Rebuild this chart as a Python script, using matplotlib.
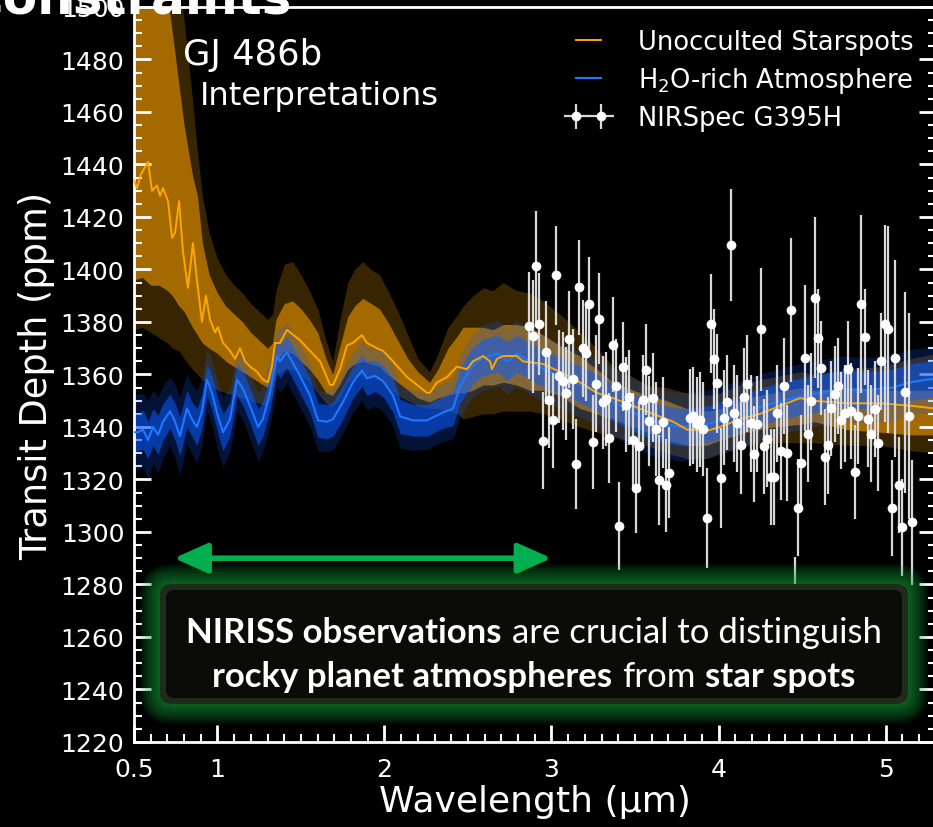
import matplotlib
matplotlib.use("Agg")
import matplotlib.pyplot as plt
from matplotlib.patches import FancyBboxPatch, FancyArrowPatch
from matplotlib.transforms import IdentityTransform
from matplotlib.offsetbox import TextArea, HPacker, VPacker, AnnotationBbox
from matplotlib.ticker import MultipleLocator, FixedLocator

# ---- unocculted starspot model (median) ----
spot_wl = [0.500, 0.518, 0.540, 0.566, 0.584, 0.608, 0.638, 0.656, 0.674, 0.704,
           0.728, 0.746, 0.770, 0.793, 0.823, 0.853, 0.877, 0.907, 0.931, 0.955,
           0.985, 1.003, 1.033, 1.075, 1.105, 1.135, 1.165, 1.195, 1.237, 1.272,
           1.302, 1.326, 1.344, 1.374, 1.416, 1.494, 1.554, 1.614, 1.674, 1.692,
           1.734, 1.775, 1.811, 1.865, 1.895, 1.955, 1.991, 2.051, 2.135, 2.195,
           2.254, 2.272, 2.314, 2.374, 2.434, 2.494, 2.530, 2.590, 2.632, 2.644,
           2.674, 2.710, 2.793, 2.829, 2.949, 3.051, 3.171, 3.272, 3.368, 3.488,
           3.608, 3.728, 3.811, 3.931, 4.009, 4.129, 4.249, 4.368, 4.488, 4.566,
           4.769, 4.967, 5.165, 5.300]
spot_med = [1434, 1431, 1436, 1439, 1441, 1430, 1432, 1428, 1431, 1426,
            1412, 1414, 1426, 1407, 1393, 1410, 1396, 1380, 1390, 1381,
            1376, 1378, 1372, 1369, 1366, 1370, 1365, 1363, 1361, 1358,
            1357, 1363, 1372, 1372, 1377, 1373, 1369, 1365, 1356, 1356,
            1362, 1371, 1372, 1375, 1372, 1370, 1369, 1365, 1359, 1356,
            1353, 1353, 1357, 1359, 1363, 1362, 1365, 1367, 1365, 1362,
            1366, 1367, 1367, 1365, 1364, 1361, 1357, 1353, 1351, 1348,
            1345, 1342, 1339, 1338.5, 1340, 1343, 1345, 1348, 1351, 1350,
            1349, 1349, 1348, 1347]

# ---- starspot model 1 and 2 sigma envelopes ----
spot_band_wl = [0.50, 0.55, 0.60, 0.65, 0.70, 0.73, 0.77, 0.80, 0.85, 0.88,
                0.91, 0.95, 1.00, 1.05, 1.10, 1.15, 1.20, 1.25, 1.30, 1.33,
                1.35, 1.40, 1.45, 1.50, 1.55, 1.60, 1.65, 1.69, 1.73, 1.78,
                1.82, 1.87, 1.92, 1.97, 2.02, 2.08, 2.14, 2.20, 2.27, 2.32,
                2.38, 2.44, 2.47, 2.53, 2.59, 2.65, 2.71, 2.79, 2.87, 2.95,
                3.05, 3.17, 3.27, 3.37, 3.49, 3.57, 3.69, 3.81, 3.93, 4.01,
                4.17, 4.33, 4.49, 4.57, 4.77, 4.97, 5.15, 5.30]
spot_lo2 = [1377, 1378, 1376, 1374, 1372, 1370, 1369, 1366, 1362, 1360,
            1358, 1356, 1354, 1353, 1352, 1351, 1350, 1349, 1348, 1352,
            1360, 1362, 1362, 1360, 1357, 1353, 1349, 1348, 1351, 1357,
            1359, 1360, 1359, 1358, 1355, 1352, 1350, 1348, 1347, 1347,
            1346, 1345, 1343, 1344, 1345, 1345, 1346, 1346, 1346, 1345,
            1343, 1340, 1338, 1336.5, 1334, 1333, 1330, 1328, 1328, 1330,
            1333, 1334, 1334, 1334, 1333, 1333, 1331, 1330]
spot_lo1 = [1396, 1397, 1394, 1394, 1392, 1390, 1386, 1384, 1378, 1375,
            1372, 1370, 1368, 1365, 1363, 1361, 1359, 1357, 1355, 1358,
            1365, 1369, 1368, 1365, 1362, 1358, 1353, 1352, 1356, 1362,
            1364, 1365, 1364, 1363, 1360, 1357, 1354, 1351, 1349.5, 1351,
            1352, 1353, 1353, 1354, 1356, 1356, 1357, 1356, 1354, 1354,
            1352, 1347, 1345, 1343, 1340, 1338, 1335, 1333, 1333, 1335,
            1338, 1340, 1341, 1342, 1339, 1338, 1337, 1337]
spot_hi1 = [1520, 1520, 1520, 1515, 1505, 1490, 1470, 1455, 1436, 1428,
            1410, 1398, 1391, 1386, 1383, 1380, 1376, 1373, 1370, 1372,
            1381, 1387, 1388, 1385, 1381, 1376, 1366, 1360, 1370, 1382,
            1386, 1389, 1387, 1385, 1380, 1373, 1366, 1361, 1357, 1362,
            1370, 1375, 1378, 1378, 1378, 1377, 1379, 1379, 1378, 1375,
            1371, 1367, 1362, 1357, 1354, 1352, 1350, 1347, 1346, 1347,
            1351, 1353, 1355, 1354, 1355, 1354, 1354, 1354]
spot_hi2 = [1530, 1530, 1530, 1530, 1525, 1520, 1510, 1495, 1465, 1445,
            1428, 1414, 1404, 1398, 1394, 1391, 1387, 1384, 1381, 1383,
            1392, 1402, 1403, 1398, 1392, 1385, 1373, 1365, 1380, 1395,
            1400, 1403, 1400, 1398, 1392, 1384, 1375, 1366, 1361, 1368,
            1378, 1383, 1386, 1390, 1393, 1392, 1395, 1392, 1391, 1388,
            1383, 1376, 1370, 1363, 1359, 1356, 1355, 1353, 1352, 1353,
            1357, 1359, 1361, 1360, 1362, 1363, 1366, 1368]

# ---- H2O-rich atmosphere model ----
atm_wl = [0.500, 0.524, 0.554, 0.584, 0.614, 0.644, 0.674, 0.716, 0.746, 0.775,
          0.817, 0.847, 0.877, 0.907, 0.937, 0.967, 1.003, 1.033, 1.075, 1.117,
          1.153, 1.195, 1.243, 1.272, 1.314, 1.356, 1.374, 1.416, 1.494, 1.554,
          1.602, 1.656, 1.692, 1.751, 1.811, 1.865, 1.895, 1.943, 1.991, 2.051,
          2.094, 2.171, 2.254, 2.350, 2.410, 2.452, 2.494, 2.530, 2.590, 2.680,
          2.734, 2.793, 2.871, 2.973, 3.093, 3.231, 3.368, 3.488, 3.608, 3.769,
          3.931, 4.087, 4.266, 4.410, 4.566, 4.728, 4.889, 5.045, 5.147, 5.300]
atm_med = [1338, 1338, 1339, 1335, 1340, 1337, 1342, 1346, 1342, 1336.5,
           1347, 1343, 1340, 1346, 1358, 1353, 1344, 1338, 1343, 1358,
           1354.5, 1348, 1340, 1343, 1353, 1367, 1365, 1368.5, 1359.5, 1352,
           1342.5, 1342, 1343, 1349.5, 1357, 1361.5, 1358.5, 1359.5, 1357.5, 1352,
           1344, 1342.5, 1342.5, 1345.5, 1347, 1355.5, 1360, 1363.5, 1366.5, 1368,
           1365, 1368, 1365, 1361.5, 1358.5, 1354.5, 1349.5, 1345.5, 1342, 1340,
           1341, 1344, 1348, 1350.5, 1352.5, 1354.5, 1354, 1355, 1357, 1358.5]
atm_sig1 = [7.5, 7, 7.5, 7, 7, 7.5, 7, 6.5, 7, 7.5,
            7, 6.5, 7, 6.5, 6, 6.5, 6.5, 7, 6.5, 6,
            6.5, 6.5, 7, 6.5, 6.5, 6, 6.5, 6, 6.5, 6.5,
            6.5, 6.5, 6.5, 6.5, 6, 6, 6.5, 6, 6, 6.5,
            6.5, 6, 6, 6, 6.5, 6.5, 7, 7, 7, 7,
            7.5, 7, 7, 7, 7, 7, 7, 7, 7, 7,
            7, 7, 7, 7, 7, 7, 7, 7, 7, 7]
atm_sig2 = [14, 14.5, 14, 15, 14, 14.5, 14, 13, 14, 15,
            13.5, 13, 14, 13, 12, 12.5, 13, 13.5, 12.5, 12,
            12, 12.5, 13, 12.5, 12.5, 11.5, 12, 11.5, 12, 12,
            11.5, 11.5, 11.5, 12, 11.5, 11.5, 12, 11.5, 11.5, 12,
            12, 11.5, 11, 11, 11.5, 12, 12, 12, 12.5, 12.5,
            12.5, 12.5, 12.5, 12.5, 12.5, 12.5, 13, 13, 13, 13,
            13, 13, 12.5, 12.5, 12.5, 12.5, 12.5, 12.5, 12.5, 12.5]

# ---- NIRSpec G395H spectrum ----
obs_wl = [2.867, 2.887, 2.907, 2.927, 2.947, 2.967, 2.987, 3.007, 3.027, 3.047,
          3.067, 3.087, 3.107, 3.127, 3.147, 3.167, 3.187, 3.207, 3.227, 3.247,
          3.267, 3.286, 3.306, 3.326, 3.346, 3.366, 3.386, 3.406, 3.426, 3.446,
          3.466, 3.486, 3.506, 3.526, 3.546, 3.566, 3.586, 3.606, 3.626, 3.646,
          3.666, 3.686, 3.706,
          3.829, 3.849, 3.869, 3.889, 3.909, 3.933, 3.953, 3.973, 3.993, 4.013,
          4.033, 4.053, 4.077, 4.093, 4.113, 4.133, 4.153, 4.173, 4.193, 4.213,
          4.233, 4.252, 4.272, 4.292, 4.312, 4.332, 4.352, 4.372, 4.392, 4.412,
          4.436, 4.456, 4.476, 4.496, 4.516, 4.536, 4.556, 4.576, 4.596, 4.616, 4.636,
          4.656, 4.676, 4.696, 4.716, 4.736, 4.756, 4.776, 4.796, 4.815, 4.835,
          4.855, 4.875, 4.895, 4.915, 4.935, 4.955, 4.975, 4.995, 5.015, 5.039,
          5.059, 5.079, 5.099, 5.119, 5.139, 5.159]
obs_depth = [1378.6, 1374.5, 1401.2, 1379.2, 1334.8, 1368.4, 1350.3, 1342.5, 1397.7, 1359.3,
             1357.4, 1352.8, 1373.4, 1358.3, 1325.9, 1393.3, 1370.0, 1368.2, 1386.7, 1334.2,
             1356.5, 1381.3, 1349.4, 1350.7, 1335.8, 1371.4, 1355.7, 1302.4, 1363.0, 1348.5,
             1351.4, 1335.1, 1316.8, 1332.6, 1350.2, 1361.8, 1342.2, 1351.2, 1339.2, 1319.7,
             1341.7, 1317.7, 1322.6,
             1343.6, 1344.3, 1341.0, 1342.8, 1339.2, 1305.2, 1379.4, 1365.8, 1356.6, 1320.6,
             1343.6, 1349.4, 1409.3, 1345.2, 1341.4, 1333.2, 1351.6, 1356.5, 1341.4, 1329.7,
             1341.1, 1377.2, 1332.6, 1335.5, 1321.0, 1321.0, 1345.2, 1330.7, 1355.6, 1330.1,
             1384.5, 1272.0, 1309.3, 1326.3, 1366.3, 1337.5, 1349.7, 1389.3, 1373.7, 1362.4, 1328.6,
             1333.0, 1347.1, 1352.5, 1355.6, 1342.5, 1345.2, 1362.0, 1346.1, 1322.9, 1344.2,
             1387.0, 1374.3, 1343.2, 1337.5, 1346.9, 1333.9, 1365.0, 1379.4, 1377.2, 1309.1,
             1366.2, 1317.9, 1301.7, 1353.2, 1344.2, 1303.7]
obs_err = [20.3, 21.6, 21.1, 19.4, 18.4, 19.7, 18.4, 18.1, 18.9, 17.8,
           18.7, 17.8, 18.4, 19.0, 17.1, 18.1, 18.4, 18.4, 18.1, 17.8,
           18.4, 17.5, 17.8, 17.8, 17.1, 18.1, 17.8, 16.8, 16.9, 18.1,
           18.1, 17.8, 17.1, 17.4, 17.4, 17.3, 17.1, 17.1, 17.8, 17.1,
           17.3, 17.8, 17.4,
           18.4, 18.4, 18.0, 18.0, 17.8, 19.0, 18.7, 19.0, 19.0, 19.0,
           18.0, 18.0, 21.2, 18.4, 18.4, 18.7, 18.4, 18.4, 18.4, 18.4,
           18.4, 23.5, 18.0, 18.4, 18.4, 18.4, 18.4, 18.4, 18.4, 18.4,
           27.4, 18.5, 18.4, 18.4, 27.9, 18.4, 18.4, 30.5, 19.0, 18.0, 18.4,
           18.4, 18.0, 18.4, 18.4, 18.4, 18.4, 18.4, 18.4, 18.0, 18.4,
           33.9, 18.4, 18.4, 18.4, 18.4, 18.4, 18.4, 37.7, 39.4, 18.4,
           37.5, 18.2, 18.4, 38.4, 39.4, 23.9]
obs_halfbin = 0.01

x_ticks = [0.5, 1, 2, 3, 4, 5]
x_ticklabels = ["0.5", "1", "2", "3", "4", "5"]
y_ticks = list(range(1220, 1501, 20))
niriss_range = (0.74, 3.0)   # span of the green arrow (um)
niriss_arrow_y = 1290

orange = "#ffa500"
blue = "#0a5bff"
blue_line = "#1f78ff"
green = "#00b050"

plt.rcParams["font.family"] = ["DejaVu Sans"]

fig = plt.figure(figsize=(9.33, 8.28), dpi=100, facecolor="black")
ax = fig.add_axes([0.1436, 0.1027, 0.8592, 0.8877], facecolor="black")

# starspot envelopes
ax.fill_between(spot_band_wl, spot_lo2, spot_hi2, color=orange, alpha=0.22, lw=0, zorder=1)
ax.fill_between(spot_band_wl, spot_lo1, spot_hi1, color=orange, alpha=0.55, lw=0, zorder=1)

# atmosphere envelopes
a_lo2 = [m - s for m, s in zip(atm_med, atm_sig2)]
a_hi2 = [m + s for m, s in zip(atm_med, atm_sig2)]
a_lo1 = [m - s for m, s in zip(atm_med, atm_sig1)]
a_hi1 = [m + s for m, s in zip(atm_med, atm_sig1)]
ax.fill_between(atm_wl, a_lo2, a_hi2, color=blue, alpha=0.22, lw=0, zorder=2)
ax.fill_between(atm_wl, a_lo1, a_hi1, color=blue, alpha=0.55, lw=0, zorder=2)

ln_atm, = ax.plot(atm_wl, atm_med, color=blue_line, lw=1.5, zorder=3,
                  label="H$_2$O-rich Atmosphere")
ln_spot, = ax.plot(spot_wl, spot_med, color=orange, lw=1.4, zorder=3,
                   label="Unocculted Starspots")

eb = ax.errorbar(obs_wl, obs_depth, yerr=obs_err, xerr=obs_halfbin, fmt="o",
                 color="white", ms=7, mew=0, ecolor="#d8d8d8", elinewidth=1.6,
                 capsize=0, zorder=4, label="NIRSpec G395H")

ax.set_xlim(0.5, 5.3)
ax.set_ylim(1220, 1500)
ax.xaxis.set_major_locator(FixedLocator(x_ticks))
ax.set_xticklabels(x_ticklabels)
ax.xaxis.set_minor_locator(MultipleLocator(0.1))
ax.set_yticks(y_ticks)
ax.yaxis.set_minor_locator(MultipleLocator(5))

ax.tick_params(which="both", direction="in", colors="white", left=True, right=True,
               top=False, bottom=True, labelsize=18)
ax.tick_params(which="major", length=12, width=2, pad=7)
ax.tick_params(which="minor", length=6, width=1.5)
ax.tick_params(axis="x", which="major", pad=11)
for s in ax.spines.values():
    s.set_color("white")
    s.set_linewidth(2)

ax.set_xlabel("Wavelength (µm)", color="white", fontsize=26, labelpad=2)
ax.set_ylabel("Transit Depth (ppm)", color="white", fontsize=26.5, labelpad=4)

ax.text(0.061, 0.936, "GJ 486b", transform=ax.transAxes, color="white",
        fontsize=25.5, ha="left", va="center", zorder=6)
ax.text(0.082, 0.879, "Interpretations", transform=ax.transAxes, color="white",
        fontsize=23.2, ha="left", va="center", zorder=6)

leg = ax.legend(handles=[ln_spot, ln_atm, eb], loc="upper right", frameon=False,
                fontsize=18.5, numpoints=2, handlelength=1.55, handletextpad=1.15,
                labelspacing=0.4, borderaxespad=0.45, borderpad=0.4)
for t in leg.get_texts():
    t.set_color("white")
leg.set_zorder(6)

# green double arrow marking the NIRISS range
arr = FancyArrowPatch((niriss_range[0], niriss_arrow_y), (niriss_range[1], niriss_arrow_y),
                      arrowstyle="<|-|>,head_length=0.85,head_width=0.38", mutation_scale=24,
                      color=green, lw=4, shrinkA=0, shrinkB=0, zorder=6)
ax.add_patch(arr)

# glowing callout box (figure pixel coords)
bx0, by0, bw, bh = 160, 123, 748, 120
idt = IdentityTransform()
for d in range(20, 0, -2):
    ax.add_artist(FancyBboxPatch((bx0 - d, by0 - d), bw + 2 * d, bh + 2 * d,
                                 boxstyle="round,pad=0,rounding_size=%d" % (12 + d),
                                 fc="#16a83c", ec="none", alpha=0.08,
                                 transform=idt, zorder=7, clip_on=False))
ax.add_artist(FancyBboxPatch((bx0, by0), bw, bh, boxstyle="round,pad=0,rounding_size=12",
                             fc="#1e2c19", ec="none", transform=idt, zorder=8, clip_on=False))
ax.add_artist(FancyBboxPatch((bx0 + 6, by0 + 6), bw - 12, bh - 12,
                             boxstyle="round,pad=0,rounding_size=8",
                             fc="#0b0c0a", ec="none", transform=idt, zorder=9, clip_on=False))

bold = dict(color="white", fontsize=25, fontweight="bold", family="Lato")
norm = dict(color="white", fontsize=25, family="Lato")
line1 = HPacker(children=[TextArea("NIRISS observations", textprops=bold),
                          TextArea("are crucial to distinguish", textprops=norm)],
                sep=7, align="baseline", pad=0)
line2 = HPacker(children=[TextArea("rocky planet atmospheres", textprops=bold),
                          TextArea("from", textprops=norm),
                          TextArea("star spots", textprops=bold)],
                sep=7, align="baseline", pad=0)
block = VPacker(children=[line1, line2], sep=9, align="center", pad=0)
ab = AnnotationBbox(block, (bx0 + bw / 2, 828 - 655), xycoords="figure pixels",
                    frameon=False, box_alignment=(0.5, 0.5), zorder=10)
ax.add_artist(ab)

# slide title peeking in at the top
fig.text(292 / 933, 1 - 14 / 828, "Constraints", color="white", fontsize=36,
         fontweight="bold", ha="right", va="baseline", zorder=20)

fig.savefig("out.png", dpi=100, facecolor="black")
